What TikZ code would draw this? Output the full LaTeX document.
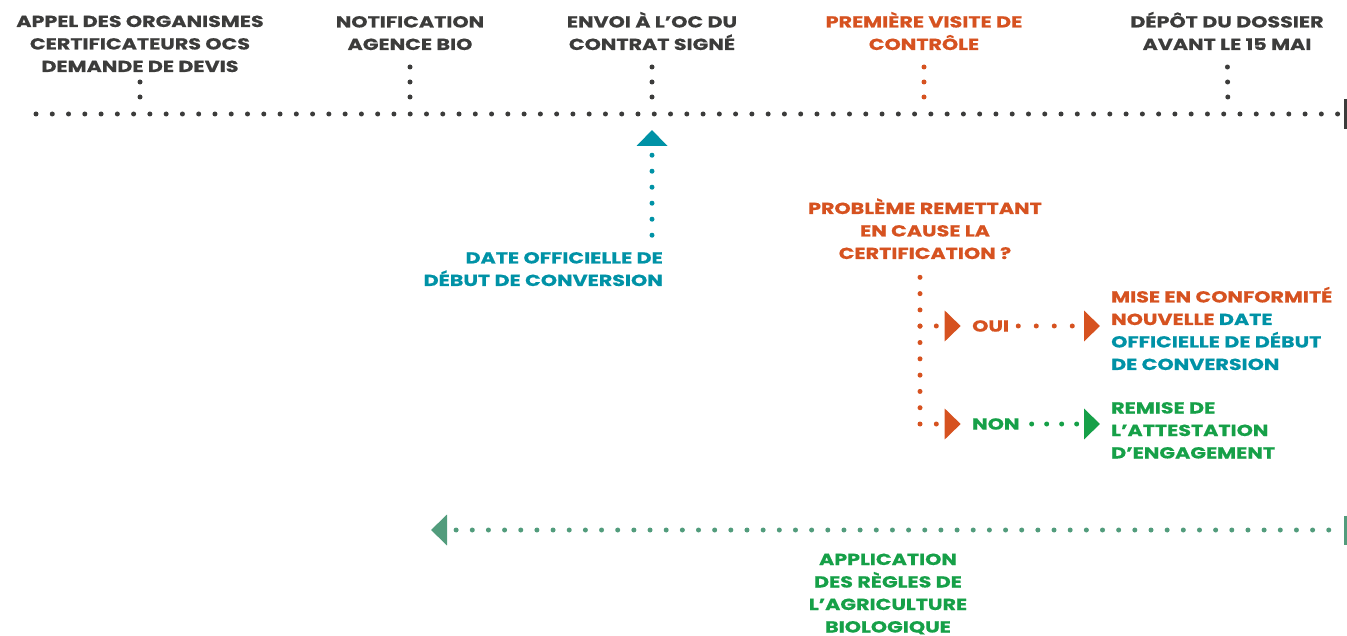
\documentclass[tikz,border=0pt]{standalone}
\usepackage{fontspec}
\setmainfont{Poppins}[FakeStretch=1.29, BoldFeatures={FakeBold=0.6}]
\usetikzlibrary{positioning, arrows.meta, calc}
\definecolor{ink}{RGB}{60, 60, 59}
\definecolor{visit}{RGB}{214, 82, 32}
\definecolor{conv}{RGB}{0, 146, 166}
\definecolor{bio}{RGB}{22, 160, 72}
\definecolor{rule}{RGB}{82, 156, 124}

\begin{document}
\begin{tikzpicture}[
    x=1pt, y=-1pt,
    font=\bfseries\fontsize{16}{22.5}\selectfont,
    lbl/.style={
        inner sep=0pt, align=center, text=#1,
    },
    lbl/.default=ink,
    dotline/.style={
        draw=#1, line width=5pt, line cap=round,
        dash pattern=on 0pt off 16.27pt,
    },
    tickline/.style={
        dotline=#1, dash pattern=on 0pt off 15pt,
        shorten <=17pt, shorten >=4pt,
    },
    headtip/.style={-{Triangle[length=16pt, width=30pt]}},
]
\useasboundingbox (0,0) rectangle (1347,636);

% =================================================
% Timeline
% =================================================
\coordinate (tl-start) at (36,114);
\coordinate (tl-end)   at (1347,114);
\draw[dotline=ink, -{Bar[width=30pt, line width=3.5pt]}] (tl-start) -- (tl-end);

\coordinate (t-appel)  at (140,114);
\coordinate (t-notif)  at (410,114);
\coordinate (t-envoi)  at (652,114);
\coordinate (t-visite) at (924,114);
\coordinate (t-depot)  at (1228,114);

\node[lbl, anchor=base] (appel)  at (140,72)  {APPEL DES ORGANISMES\\CERTIFICATEURS OCS\\DEMANDE DE DEVIS};
\node[lbl, anchor=base] (notif)  at (410,50)  {NOTIFICATION\\AGENCE BIO};
\node[lbl, anchor=base] (envoi)  at (652,50)  {ENVOI À L’OC DU\\CONTRAT SIGNÉ};
\node[lbl=visit, anchor=base] (visite) at (924,50) {PREMIÈRE VISITE DE\\CONTRÔLE};
\node[lbl, anchor=base] (depot)  at (1227,50) {DÉPÔT DU DOSSIER\\AVANT LE 15 MAI};

\draw[tickline=ink]   (t-appel)  -- (appel);
\draw[tickline=ink]   (t-notif)  -- (notif);
\draw[tickline=ink]   (t-envoi)  -- (envoi);
\draw[tickline=visit] (t-visite) -- (visite);
\draw[tickline=ink]   (t-depot)  -- (depot);

% =================================================
% Date officielle
% =================================================
\coordinate (conv-tip) at (652,130);
\node[lbl=conv, align=right, anchor=base east] (conv-date) at (663,286) {DATE OFFICIELLE DE\\DÉBUT DE CONVERSION};
\draw[dotline=conv, dash pattern=on 0pt off 16pt, shorten <=16.7pt, headtip] (conv-date.north -| conv-tip) -- (conv-tip);

% =================================================
% Question and branches
% =================================================
\node[lbl=visit, anchor=base] (probleme) at (925,259) {PROBLÈME REMETTANT\\EN CAUSE LA\\CERTIFICATION ?};
\coordinate (oui-fork) at (920,326);
\coordinate (non-fork) at (920,424);
\draw[dotline=visit, dash pattern=on 0pt off 16.3pt, shorten <=18pt] (probleme.south -| non-fork) -- (non-fork);

\node[lbl=visit, anchor=west] (oui) at (972,326) {OUI};
\node[lbl=bio,   anchor=west] (non) at (972,424) {NON};

\node[lbl=visit, align=left, anchor=base west] (conformite) at (1111,370)
    {MISE EN CONFORMITÉ\\NOUVELLE \textcolor{conv}{DATE}\\\textcolor{conv}{OFFICIELLE DE DÉBUT}\\\textcolor{conv}{DE CONVERSION}};
\node[lbl=bio, align=left, anchor=base west] (remise) at (1111,458.5)
    {REMISE DE\\L’ATTESTATION\\D’ENGAGEMENT};

\draw[dotline=visit, dash pattern=on 0pt off 16.3pt, shorten >=11.3pt, headtip] (oui-fork) -- (oui);
\draw[dotline=visit, dash pattern=on 0pt off 16.3pt, shorten >=11.3pt, headtip] (non-fork) -- (non);
\draw[dotline=visit, dash pattern=on 0pt off 18pt, shorten <=9pt, shorten >=11pt, headtip] (oui.east) -- (oui.east -| conformite.west);
\draw[dotline=bio, dash pattern=on 0pt off 15pt, shorten <=12pt, shorten >=11pt, headtip] (non.east) -- (non.east -| remise.west);

% =================================================
% Application des regles
% =================================================
\coordinate (bio-start) at (1347,530);
\coordinate (bio-end)   at (431,530);
\draw[dotline=rule, dash pattern=on 0pt off 16.16pt, dash phase=0.16pt,
      {Bar[width=29pt, line width=3pt]}-{Triangle[length=16pt, width=30pt]}] (bio-start) -- (bio-end);
\node[lbl=bio, anchor=base] (application) at (888,632.5) {APPLICATION\\DES RÈGLES DE\\L’AGRICULTURE\\BIOLOGIQUE};

\end{tikzpicture}
\end{document}
